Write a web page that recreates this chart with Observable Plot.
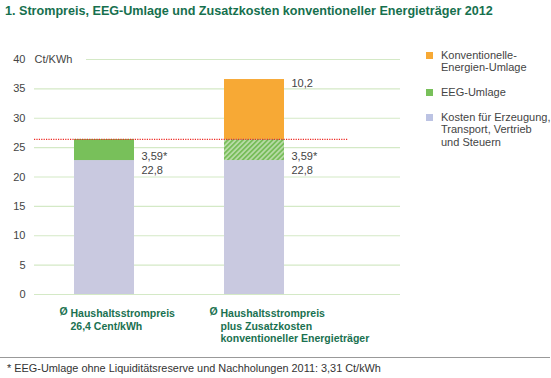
<!DOCTYPE html>
<html><head><meta charset="utf-8">
<script src="https://cdn.jsdelivr.net/npm/d3@7"></script>
<script src="https://cdn.jsdelivr.net/npm/@observablehq/plot@0.6"></script>
<style>
body{margin:0;width:551px;height:378px;overflow:hidden;background:#fff;font-family:"Liberation Sans",Arial,sans-serif;position:relative}
#title{position:absolute;left:5px;top:3px;font-size:12.6px;font-weight:bold;color:#16704e;white-space:nowrap;line-height:16px}
#chart{position:absolute;left:0;top:40px}
.sw{position:absolute;left:426px;width:7px;height:7px}
.tx{position:absolute;left:441px;white-space:nowrap;font-size:11px;color:#444;line-height:12.4px}
#foot{position:absolute;left:0;top:357px;width:550px;border-top:1.5px solid #999}
#foottx{position:absolute;left:7px;top:362px;font-size:10.9px;color:#333;white-space:nowrap;line-height:12px}
</style></head>
<body>
<div id="title">1. Strompreis, EEG-Umlage und Zusatzkosten konventioneller Energieträger 2012</div>
<div id="chart"></div>
<div id="legend"></div>
<div id="foot"></div>
<div id="foottx">* EEG-Umlage ohne Liquiditätsreserve und Nachholungen 2011: 3,31 Ct/kWh</div>
<script>
// ---- data ----
const categories = ["Haushaltsstrompreis", "Haushaltsstrompreis plus Zusatzkosten"];
const categoryLabels = [
  ["Haushaltsstrompreis", "26,4 Cent/kWh"],
  ["Haushaltsstrompreis", "plus Zusatzkosten", "konventioneller Energieträger"]
];
const components = ["Kosten", "EEG-Umlage", "Konventionelle-Energien-Umlage"];
const kosten = [22.8, 22.8];
const eegUmlage = [3.59, 3.59];
const konvUmlage = [0, 10.2];
const kostenLabels = ["22,8", "22,8"];
const eegLabels = ["3,59*", "3,59*"];
const konvLabels = ["", "10,2"];
const avgPrice = 26.4;
const yTicks = [0, 5, 10, 15, 20, 25, 30, 35, 40];
const unitLabel = "Ct/KWh";
const legendItems = [
  ["Konventionelle-", "Energien-Umlage"],
  ["EEG-Umlage"],
  ["Kosten für Erzeugung,", "Transport, Vertrieb", "und Steuern"]
];

// ---- styles ----
const C_KOSTEN = "#c9c9e0", C_EEG = "#78c05a", C_KONV = "#f7a935";
const C_LEG = ["#f7a935", "#78c05a", "#bcc3e3"];
const GREEN_TXT = "#1a7150";

const rows = [];
categories.forEach((c, i) => {
  rows.push({cat: c, comp: components[0], value: kosten[i], fill: C_KOSTEN});
  rows.push({cat: c, comp: components[1], value: eegUmlage[i], fill: i === 0 ? C_EEG : "url(#hatch)"});
  if (konvUmlage[i] > 0) rows.push({cat: c, comp: components[2], value: konvUmlage[i], fill: C_KONV});
});
const totals = categories.map((c, i) => kosten[i] + eegUmlage[i] + konvUmlage[i]);
const labelRows = categories.map((c, i) => ({cat: c, kosten: kosten[i], total: totals[i], kl: kostenLabels[i], el: eegLabels[i], vl: konvLabels[i]}));

const chart = Plot.plot({
  width: 551, height: 312,
  marginTop: 19, marginBottom: 58, marginLeft: 34, marginRight: 151,
  x: {domain: categories, range: [27.7, 329.3], paddingInner: 0.6026, paddingOuter: 0.3, axis: null},
  y: {domain: [0, 40], axis: null},
  color: {type: "identity"},
  style: {fontFamily: "Liberation Sans, Arial, sans-serif", background: "white"},
  marks: [
    Plot.ruleY(yTicks.filter(t => t < 40), {stroke: "#d4e9c6", strokeWidth: 1.2}),
    Plot.ruleY([40], {stroke: "#d4e9c6", strokeWidth: 1.2, insetLeft: 52}),
    Plot.text([unitLabel], {y: () => 40, frameAnchor: "left", textAnchor: "start", text: d => d, fill: "#444", fontSize: 11}),
    Plot.text(yTicks, {y: d => d, text: d => String(d), frameAnchor: "left", textAnchor: "end", dx: -9, fill: "#444", fontSize: 11}),
    Plot.barY(rows, {x: "cat", y: "value", fill: "fill"}),
    Plot.ruleY([avgPrice], {stroke: "#ee2a24", strokeWidth: 1.1, strokeDasharray: "1.2,1.2", insetRight: 52}),
    Plot.text(labelRows, {x: "cat", y: "kosten", text: "kl", dx: 37, dy: 10, textAnchor: "start", fill: "#444", fontSize: 11}),
    Plot.text(labelRows, {x: "cat", y: "kosten", text: "el", dx: 37, dy: -4, textAnchor: "start", fill: "#444", fontSize: 11}),
    Plot.text(labelRows, {x: "cat", y: "total", text: "vl", dx: 37, dy: 4, textAnchor: "start", fill: "#444", fontSize: 11}),
    Plot.text(categories, {x: d => d, text: () => "Ø", frameAnchor: "bottom", lineAnchor: "top", dy: 13.5, dx: -45, textAnchor: "start", fill: GREEN_TXT, fontWeight: "bold", fontSize: 10.5}),
    Plot.text(categories, {x: d => d, text: (d, i) => categoryLabels[i].join("\n"), frameAnchor: "bottom", lineAnchor: "top", dy: 13.5, dx: -34, textAnchor: "start", fill: GREEN_TXT, fontWeight: "bold", fontSize: 10.5, lineHeight: 1.2})
  ]
});

const svg = d3.select(chart);
const defs = svg.insert("defs", ":first-child");
const pat = defs.append("pattern").attr("id", "hatch").attr("patternUnits", "userSpaceOnUse")
  .attr("width", 3.5).attr("height", 3.5).attr("patternTransform", "rotate(45)");
pat.append("rect").attr("width", 3.5).attr("height", 3.5).attr("fill", "#b9dca8");
pat.append("rect").attr("width", 1.8).attr("height", 3.5).attr("fill", "#78bd5a");
document.getElementById("chart").appendChild(chart);

// legend
const legTops = [[55, 67.4], [92.3], [117, 129.4, 141.8]];
const leg = document.getElementById("legend");
legendItems.forEach((lines, i) => {
  const sw = document.createElement("div");
  sw.className = "sw"; sw.style.background = C_LEG[i]; sw.style.top = (legTops[i][0] - 3.5) + "px";
  leg.appendChild(sw);
  const tx = document.createElement("div");
  tx.className = "tx"; tx.style.top = (legTops[i][0] - 6.2) + "px";
  tx.innerHTML = lines.join("<br>");
  leg.appendChild(tx);
});
</script>
</body></html>
